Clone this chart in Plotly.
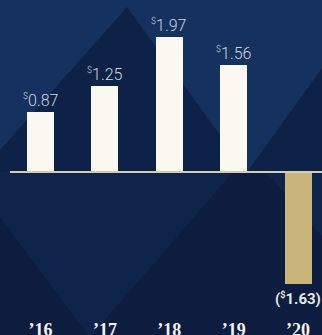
import plotly.graph_objects as go

# ---- data ----
years = ["’16", "’17", "’18", "’19", "’20"]
values = [0.87, 1.25, 1.97, 1.56, -1.63]

W, H = 322, 335
POS_COLOR = "#fbf8f1"
NEG_COLOR = "#c9b57b"

def P(px, py):
    return px / W, 1 - py / H

def path(points):
    pts = [P(*p) for p in points]
    return "M " + " L ".join(f"{x:.5f},{y:.5f}" for x, y in pts) + " Z"

bg_shapes = []
# dark mountain base
bg_shapes.append(dict(type="rect", xref="paper", yref="paper", x0=0, x1=1, y0=0, y1=1,
                      fillcolor="#0e2247", line_width=0, layer="below"))
# light sky above mountains
bg_shapes.append(dict(type="path", xref="paper", yref="paper",
                      path=path([(0, 0), (322, 0), (322, 68), (247, 172), (127, 7), (0, 150)]),
                      fillcolor="#15325f", line_width=0, layer="below"))
# lower region
bg_shapes.append(dict(type="path", xref="paper", yref="paper",
                      path=path([(0, 172), (322, 172), (322, 335), (0, 335)]),
                      fillcolor="#0c1d3f", line_width=0, layer="below"))
# lighter V in lower region
bg_shapes.append(dict(type="path", xref="paper", yref="paper",
                      path=path([(0, 172), (233, 172), (92, 335), (88, 335), (0, 217)]),
                      fillcolor="#0f2449", line_width=0, layer="below"))
# small lighter wedge at right
bg_shapes.append(dict(type="path", xref="paper", yref="paper",
                      path=path([(266, 172), (322, 172), (322, 236)]),
                      fillcolor="#0f2449", line_width=0, layer="below"))

colors = [POS_COLOR if v >= 0 else NEG_COLOR for v in values]

fig = go.Figure(go.Bar(x=years, y=values, marker=dict(color=colors, line_width=0),
                       width=0.42, hoverinfo="skip"))

DOLLAR = "<sup><span style='font-size:9px'>$</span></sup>"
annotations = []
for yr, v in zip(years, values):
    if v >= 0:
        annotations.append(dict(x=yr, y=v, xref="x", yref="y",
                                text=f"{DOLLAR}{v:.2f}", showarrow=False,
                                yanchor="bottom", yshift=0,
                                font=dict(family="Roboto", size=16, weight=300, color="#cfd5df")))
    else:
        annotations.append(dict(x=yr, y=v, xref="x", yref="y",
                                text=f"({DOLLAR}{abs(v):.2f})", showarrow=False,
                                yanchor="top", yshift=-4,
                                font=dict(family="Roboto", size=15, weight=700, color="#e9e9e9")))

baseline = dict(type="line", xref="paper", yref="y", x0=10 / W, x1=1, y0=0, y1=0,
                line=dict(color="#d6ccb4", width=2), layer="above")

fig.update_layout(
    width=W, height=H,
    margin=dict(l=0, r=0, t=0, b=0),
    paper_bgcolor="#0c1e41",
    plot_bgcolor="rgba(0,0,0,0)",
    showlegend=False,
    shapes=bg_shapes + [baseline],
    annotations=annotations,
    bargap=0,
    xaxis=dict(type="category", range=[-0.629, 4.371], showgrid=False, zeroline=False,
               showline=False, ticks="", ticklabelposition="outside", ticklabelstandoff=-18,
               tickfont=dict(family="Liberation Serif", size=18, weight=700, color="#f2f2f2"),
               fixedrange=True, automargin=False),
    yaxis=dict(range=[-2.376, 2.507], visible=False, fixedrange=True),
)

fig.write_html("out.html", config={"displayModeBar": False})
